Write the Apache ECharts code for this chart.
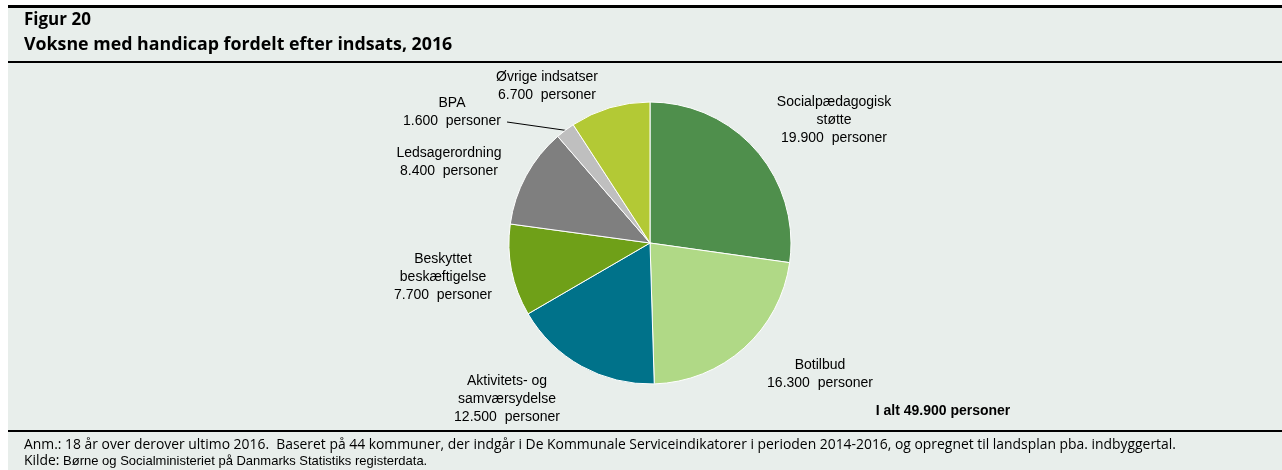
<!DOCTYPE html>
<html>
<head>
<meta charset="utf-8">
<script src="https://cdn.jsdelivr.net/npm/echarts@6/dist/echarts.min.js"></script>
<style>
  html, body { margin: 0; padding: 0; background: #fff; }
  #chart { width: 1282px; height: 470px; }
</style>
</head>
<body>
<div id="chart"></div>
<script>
// data
const categories = [
  'Socialpædagogisk\nstøtte',
  'Botilbud',
  'Aktivitets- og\nsamværsydelse',
  'Beskyttet\nbeskæftigelse',
  'Ledsagerordning',
  'BPA',
  'Øvrige indsatser'
]
const values = [19900, 16300, 12500, 7700, 8400, 1600, 6700]
const colors = ['#4f8f4c', '#b0d986', '#00728a', '#6fa018', '#7f7f7f', '#bfbfbf', '#b3c935']
const totalText = 'I alt 49.900 personer'

// label anchor points (centre of each label block)
const labelPos = [
  [834, 120], [820, 374], [507, 399], [443, 277], [449, 162], [452, 112], [547, 86]
]

const fmt = v => String(v).replace(/\B(?=(\d{3})+(?!\d))/g, '.')

const chart = echarts.init(document.getElementById('chart'))

const option = {
  animation: false,
  backgroundColor: '#ffffff',
  graphic: [
    { type: 'rect', shape: { x: 8, y: 7, width: 1274, height: 463 }, style: { fill: '#e8eeeb' }, z: -10 },
    { type: 'rect', shape: { x: 8, y: 5, width: 1274, height: 3 }, style: { fill: '#000' } },
    { type: 'rect', shape: { x: 8, y: 61, width: 1274, height: 2 }, style: { fill: '#000' } },
    { type: 'rect', shape: { x: 8, y: 430, width: 1274, height: 2 }, style: { fill: '#000' } },
    {
      type: 'text', left: 24, top: 12,
      style: { text: 'Figur 20', font: 'bold 17px "Open Sans", sans-serif', fill: '#000' }
    },
    {
      type: 'text', left: 24, top: 36,
      style: { text: 'Voksne med handicap fordelt efter indsats, 2016', font: 'bold 17.8px "Open Sans", sans-serif', fill: '#000' }
    },
    {
      type: 'text', left: 24, top: 438,
      style: {
        text: 'Anm.: 18 år over derover ultimo 2016.  Baseret på 44 kommuner, der indgår i De Kommunale Serviceindikatorer i perioden 2014-2016, og opregnet til landsplan pba. indbyggertal.',
        font: '13.9px "Open Sans", sans-serif', fill: '#000'
      }
    },
    {
      type: 'text', left: 24, top: 454,
      style: {
        text: '{a|Kilde: }{b|Børne og Socialministeriet på Danmarks Statistiks registerdata.}',
        rich: {
          a: { font: '13.9px "Open Sans", sans-serif', fill: '#000' },
          b: { font: '13px "Liberation Sans", Arial, sans-serif', fill: '#000' }
        }
      }
    },
    {
      type: 'text', x: 943, y: 411,
      style: {
        text: totalText, font: 'bold 14px "Liberation Sans", Arial, sans-serif', fill: '#000',
        align: 'center', verticalAlign: 'middle'
      }
    }
  ],
  series: [
    {
      type: 'pie',
      center: [650, 243],
      radius: [0, 141],
      startAngle: 90,
      clockwise: true,
      avoidLabelOverlap: false,
      itemStyle: { borderColor: '#ffffff', borderWidth: 1 },
      label: {
        show: true,
        position: 'outside',
        formatter: p => p.name + '\n' + fmt(p.value) + '  personer',
        fontFamily: '"Liberation Sans", Arial, sans-serif',
        fontSize: 14,
        lineHeight: 18,
        color: '#000',
        align: 'center'
      },
      labelLine: { show: false },
      labelLayout: p => {
        const pos = labelPos[p.dataIndex]
        const out = { x: pos[0], y: pos[1], align: 'center', verticalAlign: 'middle' }
        if (p.labelLinePoints && categories[p.dataIndex] === 'BPA') {
          const start = p.labelLinePoints[0]
          out.labelLinePoints = [start, start, [pos[0] + p.labelRect.width / 2 + 6, pos[1] + 10]]
        }
        return out
      },
      data: categories.map((name, i) => ({
        name,
        value: values[i],
        itemStyle: { color: colors[i] },
        labelLine: name === 'BPA'
          ? { show: true, length: 10, length2: 10, lineStyle: { color: '#000', width: 1 } }
          : { show: false }
      }))
    }
  ]
}

chart.setOption(option)
</script>
</body>
</html>
